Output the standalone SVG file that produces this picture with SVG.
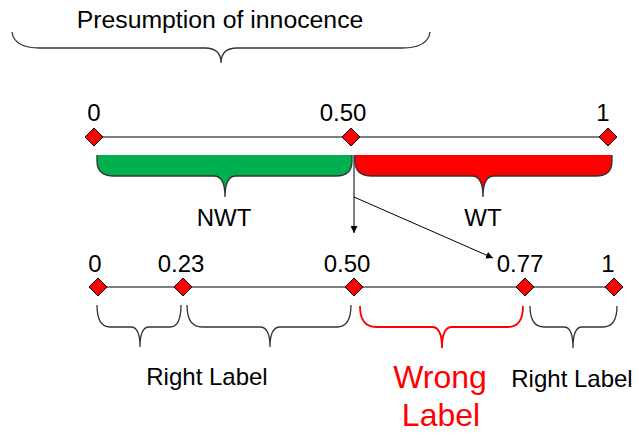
<svg xmlns="http://www.w3.org/2000/svg" width="639" height="438" viewBox="0 0 639 438">
<style>
text{font-family:"Liberation Sans",Arial,sans-serif;font-size:24px;fill:#000}
.axis{stroke:#808080;stroke-width:2;fill:none}
.dia{fill:#ff0000;stroke:#000;stroke-width:1}
.br{fill:none;stroke:#333;stroke-width:1.3}
.conn{stroke:#000;stroke-width:1;fill:none;marker-end:url(#ah)}
</style>
<defs>
<marker id="ah" viewBox="0 0 10 10" refX="10" refY="5" markerWidth="7" markerHeight="7" orient="auto" markerUnits="userSpaceOnUse">
<path d="M0,0 L10,5 L0,10 Z" fill="#000"/>
</marker>
<path id="d" d="M0,-9 L9,0 L0,9 L-9,0 Z"/>
</defs>
<rect width="639" height="438" fill="#fff"/>

<g id="title">
<text x="220" y="28" text-anchor="middle" style="font-size:24.8px">Presumption of innocence</text>
<path class="br" d="M12,32 Q14,48 40,48 L205,48 Q221,48 221,63 Q221,48 237,48 L402,48 Q428,48 430,32"/>
</g>

<g id="top-scale">
<line class="axis" x1="94" y1="137" x2="608" y2="137" stroke-width="1.6"/>
<use href="#d" class="dia" x="94" y="137"/>
<use href="#d" class="dia" x="351" y="137"/>
<use href="#d" class="dia" x="608" y="137"/>
<text x="94" y="121" text-anchor="middle">0</text>
<text x="343" y="121" text-anchor="middle">0.50</text>
<text x="603" y="121" text-anchor="middle">1</text>
</g>

<g id="nwt">
<path d="M97,155 L97,161 Q97,176 114,176 L214,176 Q225,176 225,197 Q225,176 236,176 L336,176 Q352,176 352,161 L352,155 Z" fill="#00b050"/>
<path class="br" d="M97,155 L97,161 Q97,176 114,176 L214,176 Q225,176 225,197 Q225,176 236,176 L336,176 Q352,176 352,161 L352,155"/>
<text x="224" y="226" text-anchor="middle">NWT</text>
</g>

<g id="wt">
<path d="M355,155 L355,161 Q355,176 372,176 L472,176 Q483,176 483,197 Q483,176 494,176 L596,176 Q612,176 612,161 L612,155 Z" fill="#ff0000"/>
<path class="br" d="M355,155 L355,161 Q355,176 372,176 L472,176 Q483,176 483,197 Q483,176 494,176 L596,176 Q612,176 612,161 L612,155"/>
<text x="483" y="226" text-anchor="middle">WT</text>
</g>

<g id="connectors">
<line class="conn" x1="354" y1="155" x2="354" y2="233"/>
<line class="conn" x1="354" y1="197" x2="493" y2="258"/>
</g>

<g id="bottom-scale">
<line class="axis" x1="98" y1="287" x2="614" y2="287"/>
<use href="#d" class="dia" x="98" y="287"/>
<use href="#d" class="dia" x="183" y="287"/>
<use href="#d" class="dia" x="354" y="287"/>
<use href="#d" class="dia" x="525" y="287"/>
<use href="#d" class="dia" x="614" y="287"/>
<text x="95" y="272" text-anchor="middle">0</text>
<text x="181" y="272" text-anchor="middle">0.23</text>
<text x="347" y="272" text-anchor="middle">0.50</text>
<text x="520" y="272" text-anchor="middle">0.77</text>
<text x="608" y="272" text-anchor="middle">1</text>
</g>

<g id="brace-1">
<path class="br" d="M97,305 Q97,327 110,327 L131,327 Q140,327 140,347 Q140,327 149,327 L170,327 Q181,327 181,305"/>
</g>
<g id="brace-2">
<path class="br" d="M187,305 Q187,327 202,327 L260,327 Q270,327 270,347 Q270,327 280,327 L337,327 Q351,327 351,305"/>
</g>
<g id="brace-wrong">
<path class="br" style="stroke:#ff0000;stroke-width:1.8" d="M360,306 Q360,327 376,327 L432,327 Q442,327 442,348 Q442,327 452,327 L508,327 Q523,327 523,306"/>
</g>
<g id="brace-4">
<path class="br" d="M530,306 Q530,327 544,327 L564,327 Q573,327 573,348 Q573,327 582,327 L603,327 Q617,327 617,306"/>
</g>

<g id="labels">
<text x="207" y="385" text-anchor="middle">Right Label</text>
<text x="572" y="387" text-anchor="middle">Right Label</text>
<text x="440" y="388" text-anchor="middle" style="fill:#ff0000;font-size:32px">Wrong</text>
<text x="441" y="426" text-anchor="middle" style="fill:#ff0000;font-size:32px">Label</text>
</g>
</svg>
